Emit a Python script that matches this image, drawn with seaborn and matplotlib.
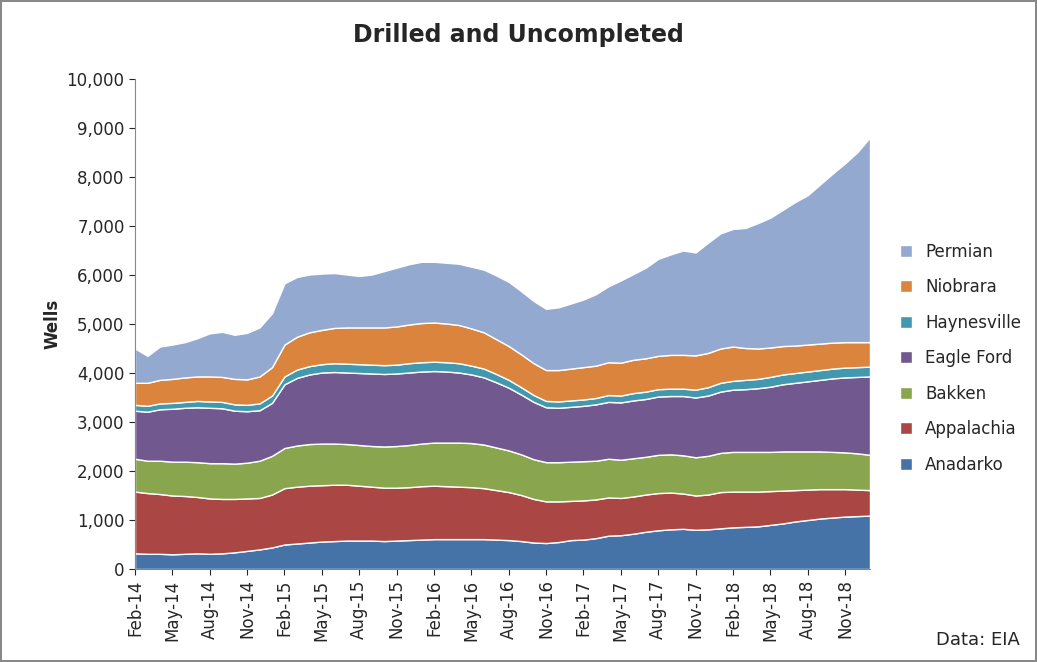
import pandas as pd
import matplotlib
matplotlib.use("Agg")
import matplotlib.pyplot as plt
from matplotlib.ticker import FuncFormatter
import seaborn as sns

months = pd.date_range("2014-02-01", "2019-01-01", freq="MS")

anadarko = [320, 310, 310, 300, 310, 320, 310, 320, 340, 370, 400,
            440, 500, 520, 540, 560, 570, 580, 580, 580, 570, 580, 590,
            600, 610, 610, 610, 610, 610, 600, 590, 570, 540, 530, 550,
            590, 600, 630, 680, 690, 720, 760, 790, 810, 820, 800, 810,
            830, 850, 860, 870, 900, 930, 970, 1000, 1030, 1050, 1070, 1080,
            1090]
appalachia = [1260, 1240, 1220, 1200, 1180, 1150, 1130, 1110, 1090, 1070, 1050,
              1080, 1150, 1160, 1160, 1150, 1150, 1140, 1120, 1100, 1090, 1080, 1080,
              1090, 1090, 1080, 1070, 1060, 1040, 1010, 980, 940, 890, 850, 830,
              800, 800, 790, 780, 760, 760, 760, 760, 750, 720, 700, 710,
              740, 730, 720, 710, 690, 670, 640, 620, 600, 580, 560, 540,
              520]
bakken = [670, 660, 680, 690, 700, 710, 720, 730, 720, 730, 760,
          790, 820, 840, 850, 850, 840, 830, 830, 830, 840, 850, 860,
          870, 880, 890, 900, 900, 890, 870, 850, 830, 810, 800, 800,
          800, 800, 790, 790, 780, 780, 770, 780, 780, 780, 780, 790,
          800, 810, 810, 810, 800, 800, 790, 780, 770, 760, 750, 740,
          720]
eagle_ford = [980, 1000, 1050, 1080, 1100, 1120, 1130, 1120, 1080, 1050, 1030,
              1080, 1300, 1380, 1420, 1450, 1460, 1460, 1470, 1480, 1480, 1480, 1480,
              1470, 1460, 1450, 1430, 1400, 1370, 1330, 1280, 1220, 1170, 1120, 1110,
              1120, 1130, 1150, 1160, 1170, 1180, 1180, 1190, 1190, 1210, 1220, 1230,
              1250, 1270, 1280, 1300, 1330, 1370, 1400, 1430, 1460, 1500, 1530, 1560,
              1600]
haynesville = [120, 120, 120, 120, 120, 130, 130, 130, 130, 130, 140,
               150, 160, 170, 170, 170, 180, 180, 180, 180, 180, 180, 190,
               190, 190, 190, 190, 180, 180, 170, 160, 150, 140, 130, 130,
               130, 130, 130, 140, 140, 150, 150, 150, 150, 150, 160, 170,
               180, 180, 190, 190, 200, 200, 200, 200, 200, 200, 200, 200,
               200]
niobrara = [450, 470, 480, 490, 500, 500, 510, 510, 520, 520, 550,
            580, 650, 670, 690, 700, 720, 740, 750, 760, 770, 780, 790,
            800, 800, 790, 780, 760, 740, 710, 690, 670, 650, 630, 640,
            650, 660, 660, 670, 670, 680, 680, 680, 690, 690, 700, 700,
            700, 700, 650, 620, 600, 580, 560, 550, 540, 530, 520, 510,
            500]
permian = [700, 550, 680, 700, 720, 780, 880, 920, 900, 950, 1000,
           1100, 1250, 1220, 1180, 1150, 1120, 1080, 1050, 1080, 1150, 1200, 1230,
           1250, 1240, 1240, 1250, 1260, 1280, 1300, 1310, 1290, 1270, 1250, 1280,
           1330, 1380, 1460, 1550, 1680, 1750, 1850, 1980, 2050, 2130, 2100, 2250,
           2350, 2400, 2450, 2560, 2650, 2780, 2930, 3050, 3250, 3450, 3650, 3880,
           4180]

regions = ["Anadarko", "Appalachia", "Bakken", "Eagle Ford",
           "Haynesville", "Niobrara", "Permian"]
colors = ["#4572A7", "#AA4643", "#89A54E", "#71588F",
          "#4198AF", "#DB843D", "#93A9CF"]

df = pd.DataFrame(dict(zip(regions, [anadarko, appalachia, bakken, eagle_ford,
                                     haynesville, niobrara, permian])), index=months)

sns.set_style("white")
plt.rcParams["font.family"] = ["DejaVu Sans"]

fig = plt.figure(figsize=(10.37, 6.62), dpi=100)
fig.patch.set_edgecolor("#888888")
fig.patch.set_linewidth(1.5)
ax = fig.add_axes([135 / 1037, 1 - 569 / 662, (870 - 135) / 1037, (569 - 79) / 662])

x = list(range(len(df)))
ax.stackplot(x, *[df[r] for r in regions], labels=regions, colors=colors)

ax.set_xlim(0, len(df) - 1)
ax.set_ylim(0, 10000)
ax.set_yticks(range(0, 10001, 1000))
ax.yaxis.set_major_formatter(FuncFormatter(lambda v, p: f"{int(v):,}"))
ax.set_xticks(x[::3])
ax.set_xticklabels([d.strftime("%b-%y") for d in months[::3]], rotation=90)
ax.tick_params(axis="both", labelsize=12, length=4, direction="out",
               bottom=True, left=True)
for s in ["top", "right"]:
    ax.spines[s].set_visible(False)
for s in ["left", "bottom"]:
    ax.spines[s].set_color("#888888")
ax.set_ylabel("Wells", fontsize=12, fontweight="bold")

fig.suptitle("Drilled and Uncompleted", fontsize=17, fontweight="bold", y=0.965)

h, l = ax.get_legend_handles_labels()
fig.legend(h[::-1], l[::-1], loc="center left", bbox_to_anchor=(885 / 1037, 1 - 358 / 662),
           frameon=False, fontsize=12, labelspacing=1.05, handlelength=0.7, handleheight=0.7)

fig.text(1020 / 1037, 1 - 640 / 662, "Data: EIA", ha="right", va="center", fontsize=13)

fig.savefig("out.png", dpi=100, edgecolor=fig.get_edgecolor())
